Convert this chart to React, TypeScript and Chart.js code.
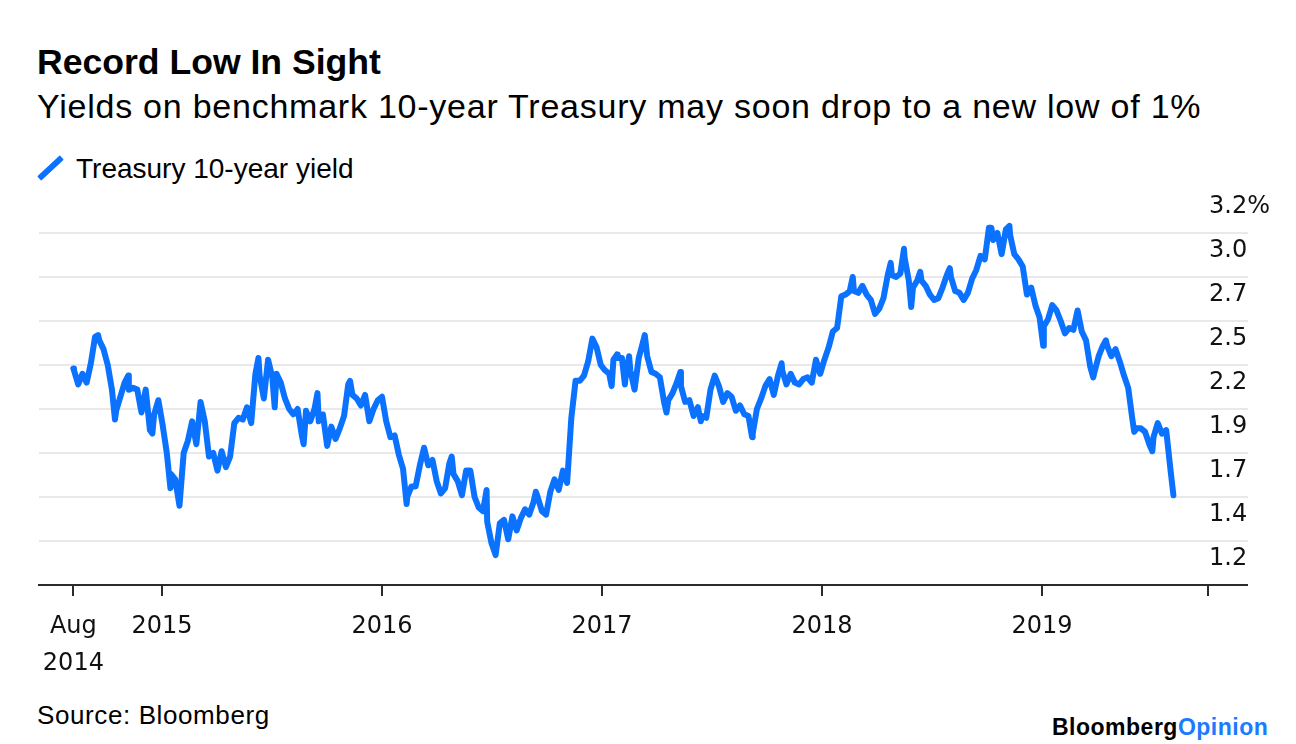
import React, { useEffect, useRef } from 'react';
import { Chart, registerables } from 'chart.js';

Chart.register(...registerables);

const FONT = '"Liberation Sans", Arial, Helvetica, sans-serif';
const TICK_FONT = '"DejaVu Sans", "Liberation Sans", Arial, sans-serif';
const LINE_BLUE = '#0a72ff';
const LOGO_BLUE = '#1a7bff';
const AXIS = '#2b2b2b';
const GRID = '#e9e9e9';

const titleText = 'Record Low In Sight';
const subtitleText = 'Yields on benchmark 10-year Treasury may soon drop to a new low of 1%';
const seriesName = 'Treasury 10-year yield';
const sourceText = 'Source: Bloomberg';

// Weekly (Friday) closes, %
const firstFriday2014 = '2014-08-08';
const yields2014 = [2.42, 2.34, 2.40, 2.35, 2.46, 2.61, 2.59, 2.54, 2.45, 2.31, 2.19, 2.27, 2.35, 2.31, 2.32, 2.31, 2.18, 2.31, 2.08, 2.17, 2.25];
const firstFriday2015 = '2015-01-02';
const yields2015 = [2.11, 1.95, 1.83, 1.80, 1.65, 1.95, 2.02, 2.13, 2.00, 2.24, 2.13, 1.93, 1.95, 1.85, 1.96, 1.87, 1.93, 2.12, 2.15, 2.14, 2.21, 2.12, 2.40, 2.39, 2.26, 2.48, 2.38, 2.40, 2.35, 2.26, 2.20, 2.17, 2.20, 2.05, 2.19, 2.13, 2.20, 2.13, 2.17, 1.99, 2.10, 2.03, 2.09, 2.16, 2.34, 2.28, 2.26, 2.22, 2.28, 2.13, 2.20, 2.25];
const firstFriday2016 = '2016-01-01';
const yields2016 = [2.27, 2.13, 2.04, 2.05, 1.94, 1.86, 1.70, 1.76, 1.76, 1.88, 1.98, 1.88, 1.91, 1.79, 1.72, 1.75, 1.89, 1.83, 1.79, 1.71, 1.85, 1.85, 1.70, 1.64, 1.62, 1.56, 1.44, 1.37, 1.55, 1.57, 1.46, 1.59, 1.51, 1.58, 1.63, 1.60, 1.67, 1.70, 1.62, 1.60, 1.73, 1.80, 1.74, 1.85, 1.78, 2.15, 2.36, 2.36, 2.39, 2.47, 2.60, 2.55, 2.45];
const firstFriday2017 = '2017-01-06';
const yields2017 = [2.42, 2.40, 2.48, 2.49, 2.49, 2.41, 2.42, 2.31, 2.49, 2.58, 2.50, 2.41, 2.40, 2.38, 2.24, 2.25, 2.29, 2.35, 2.33, 2.24, 2.25, 2.16, 2.21, 2.16, 2.15, 2.31, 2.39, 2.33, 2.24, 2.29, 2.27, 2.19, 2.22, 2.17, 2.16, 2.06, 2.20, 2.26, 2.33, 2.37, 2.28, 2.39, 2.42, 2.34, 2.40, 2.35, 2.34, 2.37, 2.38, 2.35, 2.48, 2.40];
const firstFriday2018 = '2018-01-05';
const yields2018 = [2.48, 2.55, 2.64, 2.66, 2.84, 2.85, 2.87, 2.87, 2.86, 2.90, 2.85, 2.82, 2.74, 2.77, 2.83, 2.96, 2.96, 2.95, 2.97, 3.06, 2.93, 2.89, 2.93, 2.93, 2.90, 2.85, 2.82, 2.83, 2.89, 2.96, 2.95, 2.87, 2.86, 2.82, 2.86, 2.94, 2.99, 3.07, 3.05, 3.23, 3.16, 3.20, 3.08, 3.22, 3.19, 3.08, 3.05, 3.01, 2.85, 2.89, 2.79, 2.72];
const firstFriday2019 = '2019-01-04';
const yields2019 = [2.67, 2.71, 2.79, 2.76, 2.70, 2.63, 2.66, 2.65, 2.76, 2.64, 2.59, 2.44, 2.41, 2.50, 2.56, 2.56, 2.50, 2.54, 2.47, 2.39, 2.32, 2.14, 2.09, 2.09, 2.07, 2.00, 2.04, 2.12, 2.06, 2.08, 1.86];

// Mid-week highs and lows visible on the chart
const extraDates = ['2014-08-07', '2014-09-17', '2014-10-15', '2014-11-06', '2014-12-16', '2015-01-15', '2015-06-10', '2015-07-07', '2015-08-24', '2015-09-16', '2015-11-09', '2016-02-11', '2016-04-26', '2016-06-23', '2016-09-13', '2017-01-17', '2017-01-26', '2017-02-08', '2017-02-15', '2017-03-13', '2017-04-18', '2017-05-11', '2017-06-14', '2017-09-07', '2017-10-26', '2018-02-21', '2018-04-25', '2018-05-17', '2018-05-29', '2018-06-13', '2018-08-01', '2018-10-09', '2018-11-08', '2019-01-03', '2019-03-27', '2019-04-17', '2019-06-03', '2019-07-03', '2019-08-07'];
const extraValues = [2.43, 2.62, 2.14, 2.39, 2.06, 1.75, 2.49, 2.21, 2.00, 2.29, 2.36, 1.66, 1.93, 1.74, 1.73, 2.33, 2.51, 2.34, 2.50, 2.62, 2.18, 2.41, 2.13, 2.04, 2.46, 2.95, 3.03, 3.11, 2.78, 2.98, 3.00, 3.23, 3.24, 2.56, 2.38, 2.59, 2.07, 1.96, 1.71];

const xTickDates = ['2014-08-07', '2015-01-01', '2016-01-01', '2017-01-01', '2018-01-01', '2019-01-01'];
const xTickLabels: (string | string[])[] = [['Aug', '2014'], '2015', '2016', '2017', '2018', '2019'];
const xMin = 2014.441;
const xMax = 2019.7545;

const yTickValues = [1.2, 1.45, 1.7, 1.95, 2.2, 2.45, 2.7, 2.95, 3.2];
const yTickLabels = ['1.2', '1.4', '1.7', '1.9', '2.2', '2.5', '2.7', '3.0', '3.2%'];

function parseDate(s: string): number[] {
  return s.split('-').map(Number);
}
function fracYear(s: string): number {
  const [y, m, d] = parseDate(s);
  const t = Date.UTC(y, m - 1, d);
  const a = Date.UTC(y, 0, 1);
  const b = Date.UTC(y + 1, 0, 1);
  return y + (t - a) / (b - a);
}
function addDays(s: string, n: number): string {
  const [y, m, d] = parseDate(s);
  return new Date(Date.UTC(y, m - 1, d + n)).toISOString().slice(0, 10);
}

function buildPoints() {
  const blocks: [string, number[]][] = [
    [firstFriday2014, yields2014],
    [firstFriday2015, yields2015],
    [firstFriday2016, yields2016],
    [firstFriday2017, yields2017],
    [firstFriday2018, yields2018],
    [firstFriday2019, yields2019],
  ];
  const pts: { x: number; y: number }[] = [];
  blocks.forEach(([start, vals]) => {
    vals.forEach((v, i) => pts.push({ x: fracYear(addDays(start, 7 * i)), y: v }));
  });
  extraDates.forEach((d, i) => pts.push({ x: fracYear(d), y: extraValues[i] }));
  pts.sort((a, b) => a.x - b.x);
  return pts;
}

function YieldChart() {
  const ref = useRef<HTMLCanvasElement | null>(null);
  useEffect(() => {
    if (!ref.current) return;
    const chart = new Chart(ref.current, {
      type: 'line',
      data: {
        datasets: [
          {
            label: seriesName,
            data: buildPoints(),
            borderColor: LINE_BLUE,
            borderWidth: 6,
            pointRadius: 0,
            pointHoverRadius: 0,
            tension: 0,
            fill: false,
            borderJoinStyle: 'round',
            borderCapStyle: 'round',
            clip: false,
          } as any,
        ],
      },
      options: {
        animation: false,
        responsive: false,
        maintainAspectRatio: false,
        events: [],
        layout: { padding: { top: 43, left: 39, right: 0, bottom: 0 } },
        plugins: {
          legend: { display: false },
          tooltip: { enabled: false },
          title: { display: false },
        },
        scales: {
          x: {
            type: 'linear',
            position: 'bottom',
            min: xMin,
            max: xMax,
            afterBuildTicks: (s: any) => {
              s.ticks = [...xTickDates.map(fracYear), xMax].map((v) => ({ value: v }));
            },
            afterFit: (s: any) => {
              s.height = 105;
            },
            grid: {
              drawOnChartArea: false,
              drawTicks: true,
              tickLength: 11,
              color: AXIS,
              tickColor: AXIS,
              lineWidth: 2,
              tickWidth: 2,
            },
            border: { display: true, color: AXIS, width: 2 },
            ticks: {
              autoSkip: false,
              maxRotation: 0,
              minRotation: 0,
              padding: 12,
              color: '#111',
              font: { family: TICK_FONT, size: 24, lineHeight: 37 / 24 },
              callback: (_v: any, i: number) => xTickLabels[i] ?? '',
            },
          },
          y: {
            type: 'linear',
            position: 'right',
            min: 1.2,
            max: 3.2,
            afterBuildTicks: (s: any) => {
              s.ticks = yTickValues.map((v) => ({ value: v }));
            },
            afterFit: (s: any) => {
              s.width = 88;
            },
            grid: {
              drawOnChartArea: true,
              drawTicks: true,
              tickLength: 40,
              lineWidth: 2,
              color: (ctx: any) => (ctx.index === 0 ? AXIS : GRID),
              tickColor: (ctx: any) => (ctx.index === 0 ? AXIS : GRID),
            },
            border: { display: false },
            ticks: {
              padding: -39,
              labelOffset: -26,
              color: '#111',
              font: { family: TICK_FONT, size: 24 },
              callback: (_v: any, i: number) => yTickLabels[i] ?? '',
            },
          },
        },
      } as any,
    });
    return () => chart.destroy();
  }, []);
  return (
    <canvas
      ref={ref}
      width={1296}
      height={500}
      style={{ position: 'absolute', left: 0, top: 190, width: 1296, height: 500 }}
    />
  );
}

export default function App() {
  return (
    <div
      style={{
        position: 'fixed',
        left: 0,
        top: 0,
        width: 1296,
        height: 744,
        background: '#fff',
        fontFamily: FONT,
        color: '#000',
        overflow: 'hidden',
      }}
    >
      <div style={{ position: 'absolute', left: 37, top: 45, fontSize: 35.6, lineHeight: 1, fontWeight: 700, whiteSpace: 'nowrap' }}>
        {titleText}
      </div>
      <div style={{ position: 'absolute', left: 37, top: 88.5, fontSize: 34, lineHeight: 1, letterSpacing: 0.76, whiteSpace: 'nowrap' }}>
        {subtitleText}
      </div>
      <div
        style={{
          position: 'absolute',
          left: 35,
          top: 165,
          width: 31,
          height: 6,
          borderRadius: 1,
          background: LINE_BLUE,
          transform: 'rotate(-43deg)',
        }}
      />
      <div style={{ position: 'absolute', left: 76, top: 154.6, fontSize: 28, lineHeight: 1, whiteSpace: 'nowrap' }}>
        {seriesName}
      </div>
      <YieldChart />
      <div style={{ position: 'absolute', left: 37, top: 702, fontSize: 26, lineHeight: 1, letterSpacing: 0.6, whiteSpace: 'nowrap' }}>
        {sourceText}
      </div>
      <div style={{ position: 'absolute', left: 1052, top: 715.5, fontSize: 23, lineHeight: 1, fontWeight: 700, letterSpacing: 0.5, whiteSpace: 'nowrap' }}>
        <span style={{ color: '#000' }}>Bloomberg</span>
        <span style={{ color: LOGO_BLUE }}>Opinion</span>
      </div>
    </div>
  );
}
